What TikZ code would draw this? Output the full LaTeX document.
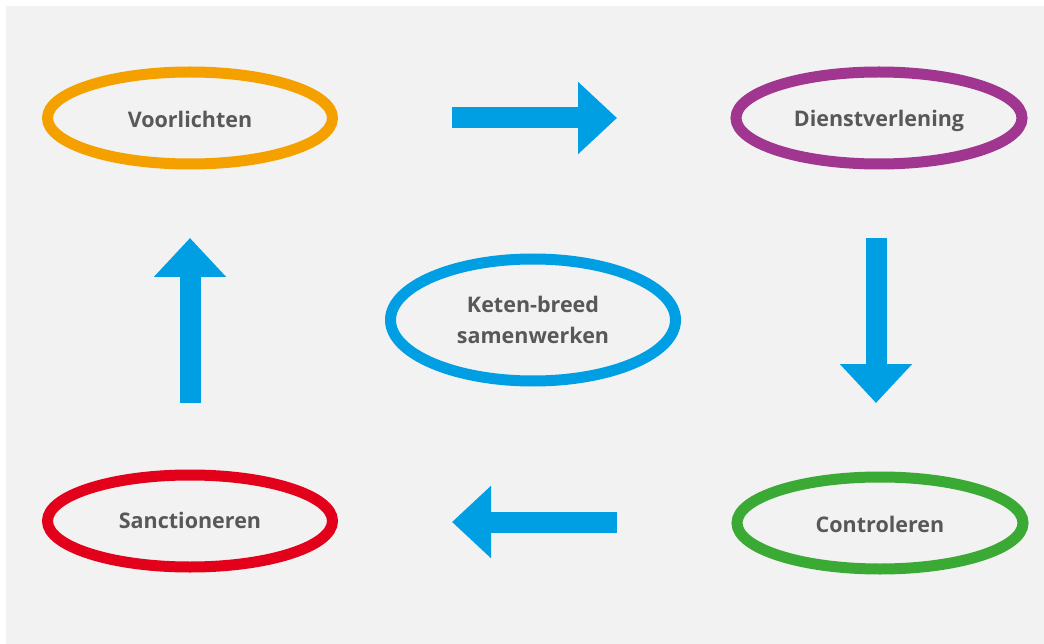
\documentclass[tikz,border=0pt]{standalone}
\usepackage{fontspec}
\setmainfont{Open Sans}
\usetikzlibrary{arrows.meta}
\definecolor{bg}{HTML}{F2F2F2}
\definecolor{cOrange}{HTML}{F4A100}
\definecolor{cPurple}{HTML}{A0368F}
\definecolor{cGreen}{HTML}{3BAA35}
\definecolor{cRed}{HTML}{E2001A}
\definecolor{cBlue}{HTML}{009FE3}
\definecolor{txt}{HTML}{58585A}
\begin{document}
\begin{tikzpicture}[x=1pt,y=-1pt,
  oval/.style={draw=#1,line width=11pt},
  lbl/.style={text=txt,font=\bfseries\fontsize{21.5}{31}\selectfont,align=center},
  bigarrow/.style={draw=cBlue,line width=21pt,-{Triangle[length=39pt,width=70pt]},cBlue}]
\useasboundingbox (0,0) rectangle (1044,644);
\fill[white] (0,0) rectangle (1044,644);
\fill[bg] (6,6) rectangle (1044,644);
% ovals
\draw[oval=cOrange] (190,118) ellipse [x radius=142.5,y radius=46];
\draw[oval=cPurple] (879,118) ellipse [x radius=143,y radius=46];
\draw[oval=cBlue] (533,320) ellipse [x radius=142.5,y radius=61];
\draw[oval=cGreen] (880,523) ellipse [x radius=143,y radius=46];
\draw[oval=cRed] (190,521) ellipse [x radius=142.5,y radius=46];
% labels
\node[lbl] (voor) at (190,119) {Voorlichten};
\node[lbl] (dienst) at (879,121) {Dienstverlening};
\node[lbl] (keten) at (533,320) {Keten-breed\\samenwerken};
\node[lbl] (contr) at (880,524) {Controleren};
\node[lbl] (sanc) at (190,520) {Sanctioneren};
% arrows
\coordinate (a1s) at (452,118); \coordinate (a1e) at (617,118);
\coordinate (a2s) at (876,238); \coordinate (a2e) at (876,403);
\coordinate (a3s) at (617,522); \coordinate (a3e) at (452,522);
\coordinate (a4s) at (190,403); \coordinate (a4e) at (190,238);
\draw[bigarrow] (a1s) -- (a1e);
\draw[bigarrow] (a2s) -- (a2e);
\draw[bigarrow] (a3s) -- (a3e);
\draw[bigarrow] (a4s) -- (a4e);
\end{tikzpicture}
\end{document}
